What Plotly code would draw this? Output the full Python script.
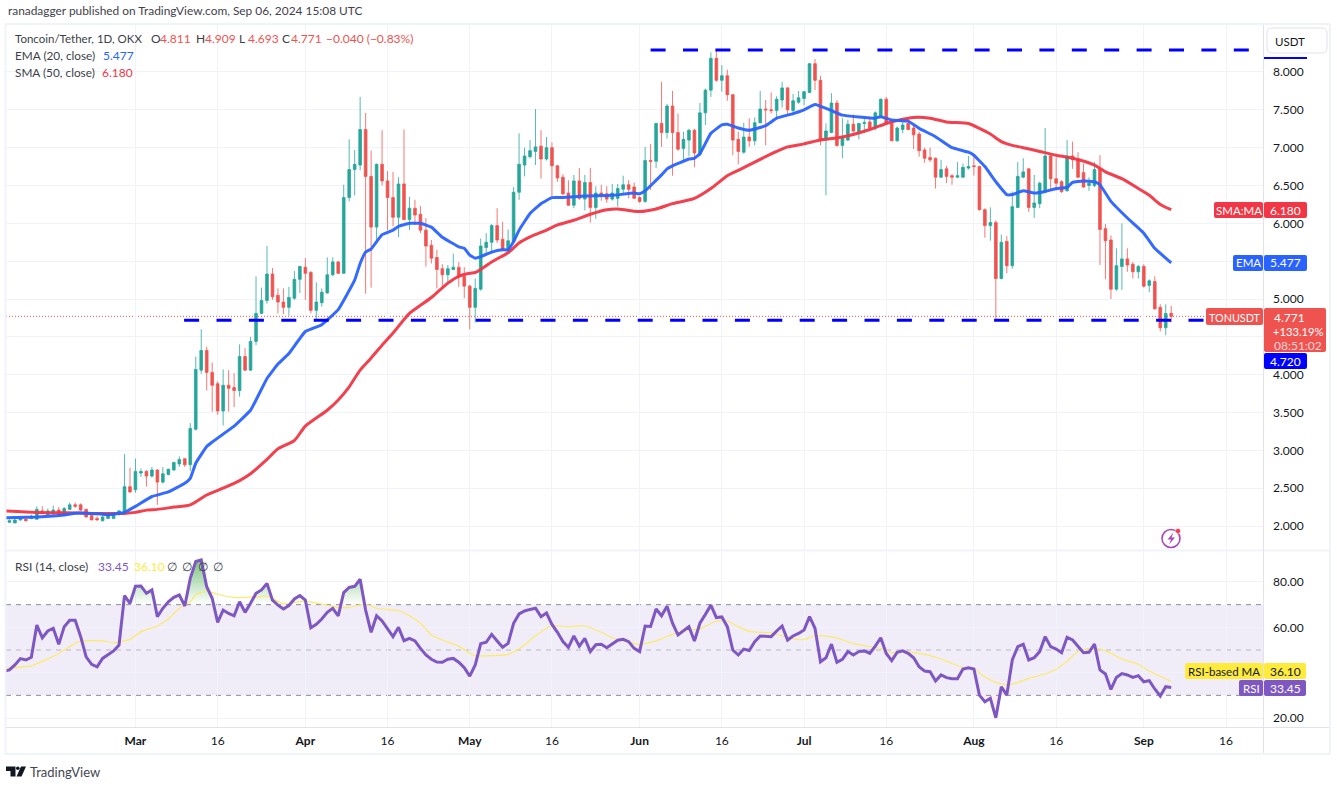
import pandas as pd
import plotly.graph_objects as go

W, H = 1337, 787

opens = [
 2.05,2.04,2.08,2.09,2.10,2.09,2.20,2.15,2.16,2.21,2.15,2.22,2.28,2.28,2.22,2.14,2.10,2.07,2.10,2.10,2.15,2.17,2.52,
 2.48,2.70,2.72,2.66,2.74,2.58,2.68,2.74,2.82,2.89,2.81,3.28,4.06,4.32,4.03,3.88,3.52,3.86,3.83,3.79,4.24,4.06,4.44,4.81,4.98,5.33,5.05,4.96,4.89,5.01,5.26,
 5.42,5.35,4.85,4.95,5.08,5.32,5.49,5.34,6.34,6.71,6.77,7.24,6.62,5.95,6.78,6.56,6.34,6.08,6.52,6.05,6.20,6.12,5.91,5.71,5.55,5.40,5.32,5.39,5.42,5.30,
 5.17,4.89,5.13,5.68,5.75,5.97,5.79,5.65,5.76,6.41,6.77,6.88,6.95,7.02,6.85,7.00,6.76,6.61,6.40,6.24,6.56,6.32,6.54,6.21,6.40,6.39,6.32,6.33,6.45,6.51,6.48,
 6.34,6.29,6.83,6.82,7.32,7.20,7.55,7.20,6.99,7.10,7.23,6.92,7.46,7.76,8.18,7.89,7.95,7.70,7.11,6.94,7.14,7.09,7.33,7.51,7.50,7.49,7.63,7.79,7.49,7.60,
 7.65,7.73,8.11,7.89,7.11,7.20,7.59,7.03,7.10,7.31,7.21,7.32,7.34,7.26,7.41,7.64,7.32,7.09,7.24,7.32,7.26,7.18,6.97,6.87,6.86,6.61,6.72,6.63,6.61,6.61,6.73,
 6.76,6.75,6.18,5.97,6.01,5.27,5.76,5.44,6.21,6.61,6.72,6.21,6.26,6.42,6.89,6.59,6.55,6.43,6.89,6.85,6.67,6.50,6.50,6.72,5.93,5.78,5.13,5.43,5.53,5.46,5.36,
 5.43,5.18,5.23,4.89,4.62,4.811]
highs = [
 2.09,2.09,2.11,2.10,2.15,2.26,2.26,2.23,2.27,2.25,2.25,2.31,2.31,2.30,2.23,2.15,2.13,2.15,2.17,2.17,2.21,2.95,2.77,
 2.89,2.76,2.74,2.78,2.75,2.78,2.76,2.85,2.92,2.89,3.36,4.24,4.60,4.37,4.16,3.91,4.07,4.06,4.02,4.40,4.35,4.50,5.30,5.15,5.70,5.41,5.14,5.14,5.16,5.37,5.44,
 5.54,5.37,5.22,5.14,5.55,5.55,5.50,6.51,7.11,6.97,7.67,7.46,6.96,6.79,7.23,6.69,6.68,6.61,7.24,6.35,6.31,6.23,6.07,5.78,5.65,5.46,5.45,5.60,5.49,5.42,
 5.19,5.27,5.80,5.87,5.99,6.20,6.02,5.92,6.48,7.19,7.00,7.10,7.51,7.23,7.14,7.07,6.77,6.65,6.57,6.64,6.73,6.64,6.73,6.49,6.51,6.49,6.52,6.52,6.63,6.57,6.54,
 6.36,7.01,7.05,7.33,7.87,7.58,7.75,7.45,7.21,7.25,7.25,7.59,7.78,8.26,8.29,8.09,8.03,7.71,7.21,7.33,7.39,7.40,7.75,7.63,7.73,7.68,7.87,7.80,7.71,7.75,
 7.75,8.12,8.17,7.95,7.32,7.72,7.63,7.39,7.37,7.44,7.33,7.40,7.41,7.48,7.65,7.67,7.34,7.28,7.34,7.37,7.32,7.21,7.00,7.00,6.87,6.84,6.76,6.65,6.81,6.79,6.89,
 6.90,6.76,6.20,6.21,6.04,5.85,5.83,6.42,6.81,6.86,6.73,6.64,6.55,7.26,6.91,6.87,6.57,7.10,7.08,6.94,6.79,6.61,6.81,6.90,5.99,5.84,5.67,6.00,5.67,5.49,5.45,
 5.46,5.26,5.30,4.93,4.93,4.909]
lows = [
 2.04,2.04,2.07,2.06,2.09,2.08,2.16,2.14,2.15,2.14,2.14,2.21,2.24,2.20,2.11,2.08,2.07,2.06,2.10,2.10,2.14,2.16,2.44,
 2.44,2.65,2.52,2.64,2.28,2.56,2.67,2.73,2.78,2.78,2.73,3.26,4.01,3.79,3.51,3.47,3.33,3.51,3.57,3.71,4.05,4.05,4.39,4.80,4.94,4.99,4.81,4.80,4.78,4.99,5.08,
 4.99,4.81,4.72,4.90,5.07,5.30,5.33,5.33,6.29,6.37,6.70,5.07,5.15,5.78,6.50,5.91,5.96,5.82,6.04,5.91,5.98,5.87,5.43,5.47,5.14,5.14,5.19,5.38,5.16,5.01,
 4.60,4.69,5.11,5.61,5.60,5.74,5.64,5.61,5.74,6.31,6.62,6.86,6.77,6.59,6.83,6.34,6.55,6.37,6.23,6.20,6.31,6.17,6.01,6.06,6.30,6.27,6.30,6.22,6.40,6.33,6.32,
 6.27,6.27,6.44,6.73,7.01,7.12,6.63,6.96,6.84,6.89,6.74,6.89,7.30,7.67,7.87,7.74,7.62,6.90,6.78,6.92,7.01,7.03,7.32,7.03,7.45,7.37,7.53,7.44,7.43,7.58,
 7.56,7.72,7.76,7.03,6.37,7.19,7.01,6.86,7.09,7.20,7.11,7.19,7.24,7.23,7.40,7.30,7.09,7.08,7.19,7.23,6.98,6.88,6.80,6.81,6.46,6.60,6.53,6.51,6.60,6.60,6.71,
 6.63,6.17,5.81,5.77,4.74,5.26,5.34,5.40,6.20,6.60,6.15,6.07,6.20,6.40,6.45,6.43,6.40,6.42,6.72,6.60,6.47,6.43,6.48,5.45,5.26,5.00,5.11,5.12,5.36,5.27,5.27,
 5.15,5.09,4.86,4.57,4.52,4.693]
closes = [
 2.07,2.08,2.10,2.07,2.13,2.22,2.17,2.20,2.21,2.15,2.23,2.28,2.26,2.21,2.12,2.08,2.08,2.12,2.15,2.15,2.20,2.52,2.45,
 2.72,2.72,2.66,2.74,2.58,2.69,2.75,2.84,2.88,2.81,3.29,4.07,4.32,4.03,3.86,3.52,3.86,3.82,3.79,4.24,4.06,4.44,4.81,4.98,5.33,5.03,4.96,4.89,5.02,5.26,5.43,
 5.34,4.85,4.96,5.09,5.32,5.49,5.34,6.34,6.71,6.78,7.24,6.62,5.95,6.78,6.56,6.34,6.08,6.52,6.05,6.20,6.11,5.91,5.70,5.54,5.39,5.32,5.40,5.42,5.30,5.17,
 4.89,5.14,5.70,5.75,5.97,5.78,5.65,5.77,6.41,6.78,6.89,6.96,7.01,6.85,7.00,6.76,6.60,6.39,6.24,6.56,6.33,6.54,6.21,6.40,6.37,6.32,6.40,6.46,6.51,6.45,6.33,
 6.29,6.83,6.82,7.32,7.20,7.55,7.20,6.98,7.11,7.23,6.93,7.46,7.76,8.18,7.89,7.95,7.70,7.10,6.95,7.14,7.09,7.33,7.51,7.50,7.49,7.64,7.79,7.50,7.62,7.66,
 7.74,8.11,7.89,7.10,7.22,7.59,7.03,7.14,7.31,7.22,7.32,7.33,7.26,7.46,7.64,7.32,7.09,7.26,7.30,7.24,7.17,6.96,6.86,6.84,6.61,6.71,6.62,6.61,6.63,6.74,6.75,
 6.75,6.18,5.97,6.01,5.27,5.75,5.44,6.22,6.62,6.68,6.21,6.27,6.53,6.89,6.59,6.53,6.42,6.89,6.84,6.61,6.48,6.53,6.71,5.92,5.77,5.13,5.44,5.53,5.45,5.36,5.43,
 5.17,5.24,4.87,4.62,4.81,4.771]
# RSI starts one day before the first visible candle
rsi = [
 40.6,
 41.2,43.4,46.2,45.6,46.8,61.0,55.4,58.4,59.6,52.5,60.3,63.1,63.1,55.9,47.0,43.7,42.6,46.3,47.8,49.6,52.2,74.0,70.6,
 78.1,78.2,75.0,76.5,64.7,68.4,71.3,73.2,74.3,69.4,81.6,89.0,89.7,77.9,72.8,62.2,67.6,66.1,65.1,71.3,66.6,70.6,75.0,76.5,79.4,72.0,69.8,68.1,69.6,72.5,74.0,
 72.0,59.8,61.3,63.7,66.6,68.4,65.0,75.3,77.6,78.1,81.2,67.6,57.8,65.1,62.8,59.3,55.9,60.0,54.1,55.1,54.0,50.7,47.8,45.9,44.7,44.6,45.9,46.3,44.6,42.2,
 38.5,43.4,52.8,53.4,56.9,54.0,51.2,52.9,61.8,65.9,67.2,67.9,68.4,64.7,66.3,61.3,57.8,53.7,51.2,56.2,51.7,55.1,49.3,52.3,52.5,51.0,52.8,54.3,54.7,53.7,50.7,
 49.3,60.6,60.4,68.1,65.1,69.3,61.8,56.6,58.4,60.3,54.0,61.8,65.7,69.8,64.3,64.6,60.3,50.0,47.8,50.4,49.8,53.7,56.2,55.9,55.9,58.4,60.6,54.4,56.2,57.3,
 58.8,64.7,59.6,44.8,46.6,52.6,44.6,45.9,49.3,47.8,49.3,49.6,48.5,51.7,55.4,48.5,45.3,49.0,49.6,48.5,46.6,42.6,40.7,40.4,36.3,39.0,37.8,37.3,37.3,41.6,42.2,
 41.6,30.1,27.2,28.7,20.1,33.8,30.1,45.6,51.5,52.5,45.6,46.6,49.3,55.9,51.5,50.4,48.8,55.6,54.4,51.7,48.8,49.0,52.6,41.2,39.4,32.6,37.9,39.6,39.0,37.9,38.7,
 36.0,36.5,32.8,29.7,33.8,33.45]

ema_points = {
 "02-06":2.11,"02-12":2.12,"02-17":2.145,"02-19":2.17,"02-22":2.167,"02-25":2.15,"02-28":2.18,"03-01":2.26,"03-04":2.39,"03-07":2.45,
 "03-10":2.565,"03-11":2.63,"03-12":2.83,"03-14":3.05,"03-15":3.11,"03-19":3.32,"03-22":3.53,"03-25":3.95,"03-27":4.14,"03-29":4.28,
 "04-01":4.57,"04-04":4.66,"04-07":4.86,"04-10":5.25,"04-11":5.47,"04-12":5.62,"04-13":5.66,"04-15":5.85,"04-17":5.91,"04-18":5.96,
 "04-20":6.00,"04-22":6.00,"04-24":5.95,"04-26":5.815,"04-29":5.69,"04-30":5.67,"05-01":5.58,"05-02":5.54,"05-03":5.56,"05-05":5.62,
 "05-07":5.65,"05-08":5.65,"05-09":5.76,"05-10":5.91,"05-12":6.13,"05-14":6.26,"05-16":6.34,"05-18":6.34,"05-22":6.36,"05-27":6.37,
 "05-31":6.40,"06-01":6.39,"06-02":6.43,"06-05":6.64,"06-06":6.72,"06-07":6.76,"06-10":6.85,"06-11":6.86,"06-12":6.92,"06-14":7.19,
 "06-16":7.30,"06-17":7.31,"06-19":7.26,"06-21":7.23,"06-24":7.29,"06-26":7.39,"06-29":7.45,"07-01":7.50,"07-03":7.57,"07-06":7.49,
 "07-08":7.43,"07-14":7.39,"07-15":7.41,"07-17":7.365,"07-20":7.35,"07-22":7.255,"07-25":7.145,"07-28":7.00,"07-31":6.94,"08-01":6.90,
 "08-03":6.75,"08-05":6.55,"08-07":6.38,"08-08":6.38,"08-10":6.43,"08-12":6.40,"08-14":6.42,"08-16":6.46,"08-18":6.475,"08-19":6.54,
 "08-21":6.56,"08-23":6.55,"08-24":6.51,"08-26":6.29,"08-29":6.07,"09-01":5.87,"09-03":5.67,"09-06":5.477}
sma_points = {
 "02-06":2.20,"02-12":2.18,"02-17":2.175,"02-22":2.167,"02-28":2.167,"03-01":2.18,"03-03":2.21,"03-05":2.22,"03-08":2.25,"03-11":2.28,
 "03-14":2.41,"03-17":2.50,"03-20":2.60,"03-22":2.69,"03-25":2.88,"03-27":3.02,"03-30":3.13,"04-01":3.32,"04-05":3.53,"04-07":3.665,
 "04-09":3.84,"04-11":4.06,"04-13":4.22,"04-15":4.39,"04-17":4.55,"04-20":4.81,"04-24":5.02,"04-27":5.21,"04-29":5.30,"05-01":5.34,
 "05-02":5.35,"05-03":5.39,"05-05":5.49,"05-07":5.57,"05-08":5.61,"05-10":5.74,"05-12":5.82,"05-15":5.91,"05-17":5.98,"05-20":6.04,
 "05-23":6.12,"05-26":6.18,"05-28":6.19,"05-31":6.16,"06-01":6.155,"06-04":6.19,"06-07":6.26,"06-11":6.33,"06-14":6.46,"06-17":6.63,
 "06-19":6.70,"06-22":6.81,"06-26":6.95,"06-28":7.01,"07-01":7.05,"07-04":7.10,"07-08":7.14,"07-13":7.24,"07-16":7.32,"07-18":7.36,
 "07-21":7.40,"07-24":7.39,"07-27":7.34,"07-31":7.32,"08-02":7.255,"08-04":7.18,"08-06":7.08,"08-08":7.03,"08-10":7.00,"08-13":6.95,
 "08-16":6.90,"08-19":6.86,"08-23":6.77,"08-25":6.68,"08-28":6.59,"08-31":6.46,"09-02":6.37,"09-04":6.25,"09-06":6.18}
rsi_ma_points = {
 "02-06":42.0,"02-11":43.0,"02-16":48.5,"02-18":51.5,"02-20":54.0,"02-24":54.0,"02-26":53.2,"02-29":54.7,"03-02":58.1,"03-05":60.6,
 "03-07":63.7,"03-09":68.4,"03-11":71.3,"03-12":74.3,"03-14":76.0,"03-16":74.6,"03-19":73.2,"03-23":73.4,"03-25":73.8,"03-28":70.4,
 "03-30":71.0,"04-01":71.6,"04-04":70.3,"04-07":68.8,"04-09":68.8,"04-12":70.3,"04-14":68.4,"04-18":67.3,"04-20":65.1,"04-22":61.8,
 "04-24":56.6,"04-26":54.4,"04-29":51.7,"05-01":48.5,"05-02":47.5,"05-05":47.5,"05-08":48.1,"05-10":50.4,"05-12":54.4,"05-15":59.6,
 "05-16":60.7,"05-19":60.3,"05-22":60.6,"05-25":57.8,"05-27":55.4,"05-29":54.0,"06-01":52.5,"06-03":53.4,"06-05":54.9,"06-07":56.9,
 "06-10":58.8,"06-12":59.3,"06-15":62.8,"06-17":62.8,"06-19":60.3,"06-21":58.2,"06-25":57.5,"06-28":55.6,"06-30":54.6,"07-01":54.6,
 "07-03":56.3,"07-06":55.9,"07-10":52.9,"07-12":51.9,"07-15":50.7,"07-17":48.8,"07-19":49.3,"07-22":48.5,"07-24":47.5,"07-27":45.1,
 "07-30":42.2,"08-01":41.6,"08-03":38.2,"08-05":35.7,"08-07":34.6,"08-09":35.6,"08-11":37.5,"08-14":39.4,"08-16":41.5,"08-18":45.1,
 "08-20":49.3,"08-22":50.7,"08-24":50.4,"08-26":48.5,"08-28":46.0,"08-31":43.7,"09-02":40.7,"09-06":36.1}

price_ticks = [2.0,2.5,3.0,3.5,4.0,4.5,5.0,5.5,6.0,6.5,7.0,7.5,8.0]
price_labels = ["2.000","2.500","3.000","3.500","4.000","","5.000","","6.000","6.500","7.000","7.500","8.000"]
rsi_ticks = [20,40,60,80]
rsi_labels = ["20.00","","60.00","80.00"]
date_ticks = ["2024-03-01","2024-03-16","2024-04-01","2024-04-16","2024-05-01","2024-05-16","2024-06-01","2024-06-16",
              "2024-07-01","2024-07-16","2024-08-01","2024-08-16","2024-09-01","2024-09-16"]
date_labels = ["<b>Mar</b>","16","<b>Apr</b>","16","<b>May</b>","16","<b>Jun</b>","16","<b>Jul</b>","16","<b>Aug</b>","16","<b>Sep</b>","16"]
resistance_level = 8.29
support_level = 4.72
last_close = 4.771

GREEN, RED = "#26a69a", "#ef5350"
BLUE, MA_RED = "#2962ff", "#f23645"
PURPLE, YELLOW = "#7e57c2", "#ffeb3b"
GRID = "#f0f3fa"
AXIS = "#e0e3eb"
TEXT = "#131722"
FONT = "Lato"

dates = pd.date_range("2024-02-07", periods=len(closes), freq="D")
rsi_dates = pd.date_range("2024-02-06", periods=len(rsi), freq="D")
def dated(points):
    return ["2024-" + k for k in points], list(points.values())

fig = go.Figure()

rsi_x = list(rsi_dates)
fig.add_trace(go.Scatter(x=rsi_x, y=[70 for _ in rsi], xaxis="x2", yaxis="y2", mode="lines",
                         line=dict(width=0), showlegend=False, hoverinfo="skip"))
fig.add_trace(go.Scatter(x=rsi_x, y=[max(v, 70) for v in rsi], xaxis="x2", yaxis="y2", mode="lines",
                         line=dict(width=0), fill="tonexty", showlegend=False, hoverinfo="skip",
                         fillgradient=dict(type="vertical", start=70, stop=90,
                                           colorscale=[[0, "rgba(76,175,80,0)"], [1, "rgba(76,175,80,0.75)"]])))
fig.add_trace(go.Scatter(x=rsi_x, y=[30 for _ in rsi], xaxis="x2", yaxis="y2", mode="lines",
                         line=dict(width=0), showlegend=False, hoverinfo="skip"))
fig.add_trace(go.Scatter(x=rsi_x, y=[min(v, 30) for v in rsi], xaxis="x2", yaxis="y2", mode="lines",
                         line=dict(width=0), fill="tonexty", fillcolor="rgba(255,82,82,0.10)",
                         showlegend=False, hoverinfo="skip"))

ma_x, ma_y = dated(rsi_ma_points)
fig.add_trace(go.Scatter(x=ma_x, y=ma_y, xaxis="x2", yaxis="y2", mode="lines",
                         line=dict(color="#fde96b", width=1.2, shape="spline", smoothing=0.5),
                         showlegend=False, hoverinfo="skip"))
fig.add_trace(go.Scatter(x=rsi_x, y=rsi, xaxis="x2", yaxis="y2", mode="lines",
                         line=dict(color=PURPLE, width=3), showlegend=False, hoverinfo="skip"))

fig.add_trace(go.Candlestick(x=dates, open=opens, high=highs, low=lows, close=closes,
                             xaxis="x", yaxis="y", showlegend=False, hoverinfo="skip",
                             whiskerwidth=0,
                             increasing=dict(line=dict(color="rgba(38,166,154,0.78)", width=1), fillcolor=GREEN),
                             decreasing=dict(line=dict(color="rgba(239,83,80,0.78)", width=1), fillcolor=RED)))
x, y = dated(sma_points)
fig.add_trace(go.Scatter(x=x, y=y, mode="lines", line=dict(color=MA_RED, width=3, shape="spline", smoothing=0.6),
                         opacity=0.95, showlegend=False, hoverinfo="skip"))
x, y = dated(ema_points)
fig.add_trace(go.Scatter(x=x, y=y, mode="lines", line=dict(color=BLUE, width=3, shape="spline", smoothing=0.3),
                         opacity=0.95, showlegend=False, hoverinfo="skip"))

fig.add_trace(go.Scatter(x=["2024-06-03", "2024-09-20 14:00"], y=[resistance_level]*2, mode="lines",
                         line=dict(color="#0000ff", width=3, dash="15px,17.4px"), showlegend=False, hoverinfo="skip"))
fig.add_trace(go.Scatter(x=["2024-03-09 21:00", "2024-09-20 14:00"], y=[support_level]*2, mode="lines",
                         line=dict(color="#0000ff", width=3, dash="15px,17.4px"), showlegend=False, hoverinfo="skip"))

px = lambda v: v / W
py = lambda v: 1 - v / H

shapes, annotations = [], []
def sline(x0, y0, x1, y1, color=AXIS, width=1):
    shapes.append(dict(type="line", xref="paper", yref="paper", x0=px(x0), y0=py(y0), x1=px(x1), y1=py(y1),
                       line=dict(color=color, width=width), layer="above"))
def rbox(x0, y0, x1, y1, fill, r=2, line=None):
    X0, X1, Y0, Y1 = px(x0), px(x1), py(y0), py(y1)
    rx, ry = r / W, r / H
    path = (f"M {X0+rx} {Y0} L {X1-rx} {Y0} Q {X1} {Y0} {X1} {Y0-ry} L {X1} {Y1+ry} Q {X1} {Y1} {X1-rx} {Y1} "
            f"L {X0+rx} {Y1} Q {X0} {Y1} {X0} {Y1+ry} L {X0} {Y0-ry} Q {X0} {Y0} {X0+rx} {Y0} Z")
    shapes.append(dict(type="path", xref="paper", yref="paper", path=path, fillcolor=fill,
                       line=dict(width=1 if line else 0, color=line or fill), layer="above"))
def text(x, y, s, color=TEXT, size=12, anchor="left"):
    annotations.append(dict(xref="paper", yref="paper", x=px(x), y=py(y), text=s, showarrow=False,
                            xanchor=anchor, yanchor="middle", align=anchor,
                            font=dict(family=FONT, size=size, color=color), borderpad=0))

shapes.append(dict(type="rect", xref="x2 domain", yref="y2", x0=0, x1=1, y0=30, y1=70,
                   fillcolor="rgba(126,87,194,0.11)", line=dict(width=0), layer="below"))
for lvl, col in ((70, "#8a8d96"), (50, "#b8bac2"), (30, "#8a8d96")):
    shapes.append(dict(type="line", xref="x2 domain", yref="y2", x0=0, x1=1, y0=lvl, y1=lvl,
                       line=dict(color=col, width=1, dash="5px,5px"), layer="below"))
shapes.append(dict(type="line", xref="x domain", yref="y", x0=0, x1=1, y0=last_close, y1=last_close,
                   line=dict(color=RED, width=1, dash="1px,2px"), layer="below"))

sline(5.5, 24, 1330, 24, GRID, 2)
sline(5.5, 24, 5.5, 754, GRID, 2)
sline(5.5, 754, 1330, 754, GRID, 2)
sline(1330, 24, 1330, 754, GRID, 2)
sline(6, 550.5, 1329, 550.5, GRID, 2)
sline(6, 727.5, 1329, 727.5, AXIS, 1)
sline(1263.5, 25, 1263.5, 753, AXIS, 1)

text(7, 11, "ranadagger published on TradingView.com, Sep 06, 2024 15:08 UTC", "#3f424c", 11.9)
text(14, 38, "Toncoin/Tether, 1D, OKX", "#3c3f49", 11.5)
for xpos, letter, val in ((150, "O", "4.811"), (195, "H", "4.909"), (238, "L", "4.693"), (281, "C", "4.771")):
    text(xpos, 38, letter, "#3c3f49", 12)
    text(xpos + 8.5, 38, val, RED, 12)
text(325, 38, "\u22120.040 (\u22120.83%)", RED, 12)
text(14, 55, "EMA (20, close)", "#3c3f49", 11.8)
text(102, 55, "5.477", BLUE, 12)
text(14, 72, "SMA (50, close)", "#3c3f49", 11.8)
text(101, 72, "6.180", MA_RED, 12)
text(14, 566, "RSI (14, close)", "#3c3f49", 12)
text(97, 566, "33.45", PURPLE, 12)
text(133, 566, "36.10", YELLOW, 12)
for xpos in (172, 187, 203, 218):
    text(xpos, 566, "\u2205", "#3c3f49", 12, "center")

rbox(1267, 28, 1327, 53, "#ffffff", 5, AXIS)
text(1290, 41, "USDT", TEXT, 11.5, "center")
sline(1264, 58, 1307, 58, "#0000ff", 2)

rbox(1214, 202, 1263, 218, MA_RED); rbox(1264, 202, 1307, 218, MA_RED)
text(1238.5, 210, "SMA:MA", "#ffffff", 11.5, "center"); text(1285.5, 210, "6.180", "#ffffff", 12, "center")
rbox(1233, 255, 1263, 271, BLUE); rbox(1264, 255, 1307, 271, BLUE)
text(1248, 263, "EMA", "#ffffff", 11.5, "center"); text(1285.5, 263, "5.477", "#ffffff", 12, "center")
rbox(1206, 308, 1263, 325, RED); rbox(1264, 308, 1326, 352, RED)
text(1234.5, 317, "TONUSDT", "#ffffff", 10.8, "center")
text(1273, 317, "4.771", "#ffffff", 12); text(1272, 331, "+133.19%", "#ffffff", 11.2)
text(1273, 345, "08:51:02", "#fad4d3", 12)
rbox(1264, 353, 1307, 369, "#0000ff"); text(1285.5, 361, "4.720", "#ffffff", 12, "center")
rbox(1185, 663, 1263, 679, YELLOW); rbox(1264, 663, 1306, 679, YELLOW)
text(1224, 671, "RSI-based MA", TEXT, 11.5, "center"); text(1285, 671, "36.10", TEXT, 12, "center")
rbox(1239, 680, 1263, 696, PURPLE); rbox(1264, 680, 1306, 696, PURPLE)
text(1251, 688, "RSI", "#ffffff", 11.5, "center"); text(1285, 688, "33.45", "#ffffff", 12, "center")

cx, cy, cr = 1171, 538.5, 9
shapes.append(dict(type="circle", xref="paper", yref="paper", x0=px(cx-cr), x1=px(cx+cr), y0=py(cy-cr), y1=py(cy+cr),
                   line=dict(color="#ab47bc", width=1.6), fillcolor="rgba(0,0,0,0)", layer="above"))
bolt = [(1173.5, 532.5), (1167.5, 539.5), (1171, 539.5), (1169, 544.5), (1175, 537.5), (1171.5, 537.5)]
shapes.append(dict(type="path", xref="paper", yref="paper", fillcolor="#ab47bc", line=dict(width=0), layer="above",
                   path="M " + " L ".join(f"{px(a)} {py(b)}" for a, b in bolt) + " Z"))
shapes.append(dict(type="circle", xref="paper", yref="paper", x0=px(1175.5), x1=px(1180.5), y0=py(528.5), y1=py(533.5),
                   line=dict(color="#ffffff", width=0.5), fillcolor="#f23645", layer="above"))

logo = [[(6, 766.5), (15.5, 766.5), (15.5, 776.5), (10.5, 776.5), (10.5, 771), (6, 771)],
        [(21, 766.5), (26, 766.5), (21.5, 776.5), (16.5, 776.5)]]
for poly in logo:
    shapes.append(dict(type="path", xref="paper", yref="paper", fillcolor="#131722", line=dict(width=0), layer="above",
                       path="M " + " L ".join(f"{px(a)} {py(b)}" for a, b in poly) + " Z"))
shapes.append(dict(type="circle", xref="paper", yref="paper", x0=px(16), x1=px(19.6), y0=py(766.5), y1=py(770.1),
                   fillcolor="#131722", line=dict(width=0), layer="above"))
text(29, 772, "TradingView", "#434651", 13)

grid = dict(showgrid=True, gridcolor=GRID, gridwidth=1, zeroline=False, showline=False, ticks="")
xrange_ = ["2024-02-06 09:00", "2024-09-22 18:00"]
fig.update_layout(
    width=W, height=H, margin=dict(l=0, r=0, t=0, b=0), autosize=False,
    paper_bgcolor="#ffffff", plot_bgcolor="#ffffff",
    font=dict(family=FONT, size=12, color=TEXT), showlegend=False, hovermode=False,
    xaxis=dict(domain=[px(6), px(1263)], anchor="y", range=xrange_, type="date", tickmode="array",
               tickvals=date_ticks, ticktext=[""]*len(date_ticks), rangeslider=dict(visible=False), **grid),
    xaxis2=dict(domain=[px(6), px(1263)], anchor="y2", matches="x", type="date", tickmode="array",
                tickvals=date_ticks, ticktext=date_labels, tickfont=dict(family=FONT, size=12, color=TEXT),
                ticklabelstandoff=5, **grid),
    yaxis=dict(domain=[py(550), py(25)], anchor="x", side="right", range=[1.683, 8.621], tickmode="array",
               tickvals=price_ticks, ticktext=price_labels, tickfont=dict(family=FONT, size=12, color=TEXT),
               ticklabelstandoff=9, **grid),
    yaxis2=dict(domain=[py(727), py(551)], anchor="x2", side="right", range=[16.04, 93.67], tickmode="array",
                tickvals=rsi_ticks, ticktext=rsi_labels, tickfont=dict(family=FONT, size=12, color=TEXT),
                ticklabelstandoff=9, **grid),
    shapes=shapes, annotations=annotations,
)
print(len(opens), len(highs), len(lows), len(closes), len(rsi))
fig.write_html("out.html", config=dict(displayModeBar=False, staticPlot=True),
               post_script="document.body.style.margin='0';document.documentElement.style.overflow='hidden';")
